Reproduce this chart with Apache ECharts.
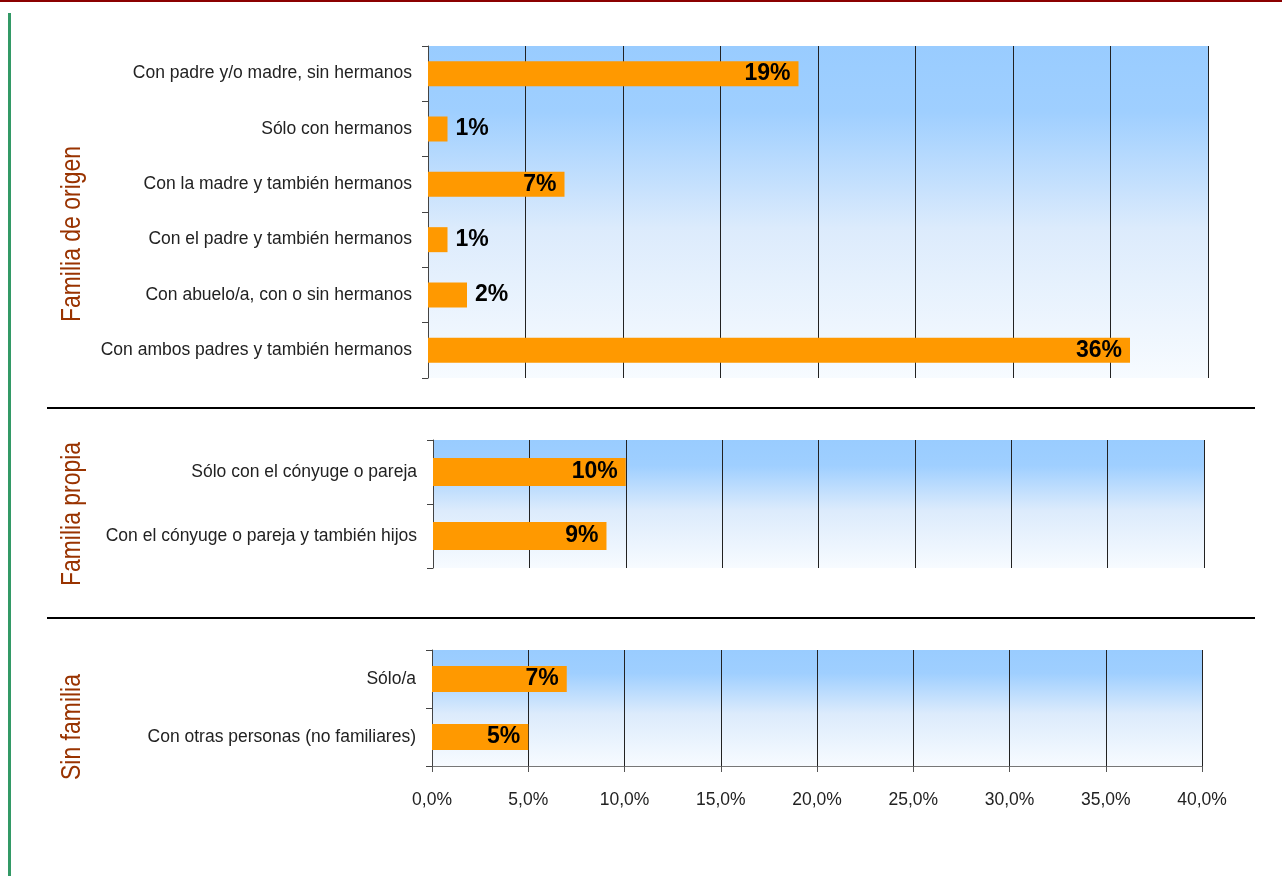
<!DOCTYPE html>
<html>
<head>
<meta charset="utf-8">
<script src="https://cdn.jsdelivr.net/npm/echarts@6/dist/echarts.min.js"></script>
<style>
html,body{margin:0;padding:0;background:#fff;}
#c{width:1282px;height:876px;}
</style>
</head>
<body>
<div id="c"></div>
<script>
// Data
var groupNames = ['Familia de origen', 'Familia propia', 'Sin familia'];
var catsOrigen = ['Con padre y/o madre, sin hermanos', 'Sólo con hermanos', 'Con la madre y también hermanos', 'Con el padre y también hermanos', 'Con abuelo/a, con o sin hermanos', 'Con ambos padres y también hermanos'];
var valsOrigen = [19, 1, 7, 1, 2, 36];
var catsPropia = ['Sólo con el cónyuge o pareja', 'Con el cónyuge o pareja y también hijos'];
var valsPropia = [10, 9];
var catsSin = ['Sólo/a', 'Con otras personas (no familiares)'];
var valsSin = [7, 5];
var xTicks = ['0,0%', '5,0%', '10,0%', '15,0%', '20,0%', '25,0%', '30,0%', '35,0%', '40,0%'];

var SANS = "'Liberation Sans',Arial,sans-serif";

var bg = {type:'linear', x:0, y:0, x2:0, y2:1, colorStops:[
  {offset:0, color:'#99CCFF'}, {offset:0.2, color:'#9FCFFF'},
  {offset:0.55, color:'#DCEBFC'}, {offset:1, color:'#F7FBFF'}]};

var grids = [
  {left:428, top:46, width:780, height:332},
  {left:433, top:440, width:771, height:128},
  {left:432, top:650, width:770, height:116}
];
grids.forEach(function(g){ g.show = true; g.backgroundColor = bg; g.borderWidth = 0; g.containLabel = false; });

function xAx(i, showLabels){
  return {
    type:'value', gridIndex:i, min:0, max:40, interval:5,
    axisLine:{show:showLabels, lineStyle:{color:'#777', width:1}},
    axisTick:{show:showLabels, length:6, lineStyle:{color:'#555'}},
    axisLabel:{show:showLabels, margin:25, fontFamily:SANS, fontSize:17.5, color:'#222',
      formatter:function(v){ return xTicks[Math.round(v/5)]; }},
    splitLine:{show:true, lineStyle:{color:'#222', width:1}}
  };
}
function yAx(i, cats){
  return {
    type:'category', gridIndex:i, data:cats, inverse:true,
    axisLine:{show:true, lineStyle:{color:'#444', width:1}},
    axisTick:{show:true, length:6, lineStyle:{color:'#444'}},
    axisLabel:{margin:16, fontFamily:SANS, fontSize:17.5, color:'#222'},
    splitLine:{show:false}
  };
}
function ser(i, vals, bw){
  return {
    type:'bar', xAxisIndex:i, yAxisIndex:i, barWidth:bw,
    itemStyle:{color:'#FF9900'},
    data: vals.map(function(v){
      return {value:v, label:{position: v >= 5 ? 'insideRight' : 'right'}};
    }),
    label:{show:true, distance:8, formatter:'{c}%', fontFamily:SANS, fontWeight:'bold', fontSize:23, color:'#000'},
    animation:false
  };
}
function groupText(name, y){
  return {type:'text', x:72, y:y, rotation:Math.PI/2, scaleX:0.82, scaleY:1,
    style:{text:name, fill:'#993300', font:'28px ' + SANS, textAlign:'center', textVerticalAlign:'middle'}};
}

var chart = echarts.init(document.getElementById('c'), null, {renderer:'canvas'});
chart.setOption({
  animation:false,
  grid: grids,
  xAxis: [xAx(0,false), xAx(1,false), xAx(2,true)],
  yAxis: [yAx(0,catsOrigen), yAx(1,catsPropia), yAx(2,catsSin)],
  series: [ser(0,valsOrigen,25), ser(1,valsPropia,28), ser(2,valsSin,26)],
  graphic: [
    {type:'rect', shape:{x:0, y:0, width:1282, height:2}, style:{fill:'#8B0000'}},
    {type:'rect', shape:{x:8, y:13, width:3, height:863}, style:{fill:'#339966'}},
    {type:'line', shape:{x1:47, y1:408, x2:1255, y2:408}, style:{stroke:'#000', lineWidth:2}},
    {type:'line', shape:{x1:47, y1:618, x2:1255, y2:618}, style:{stroke:'#000', lineWidth:2}},
    groupText(groupNames[0], 234),
    groupText(groupNames[1], 514),
    groupText(groupNames[2], 727)
  ]
});
</script>
</body>
</html>
